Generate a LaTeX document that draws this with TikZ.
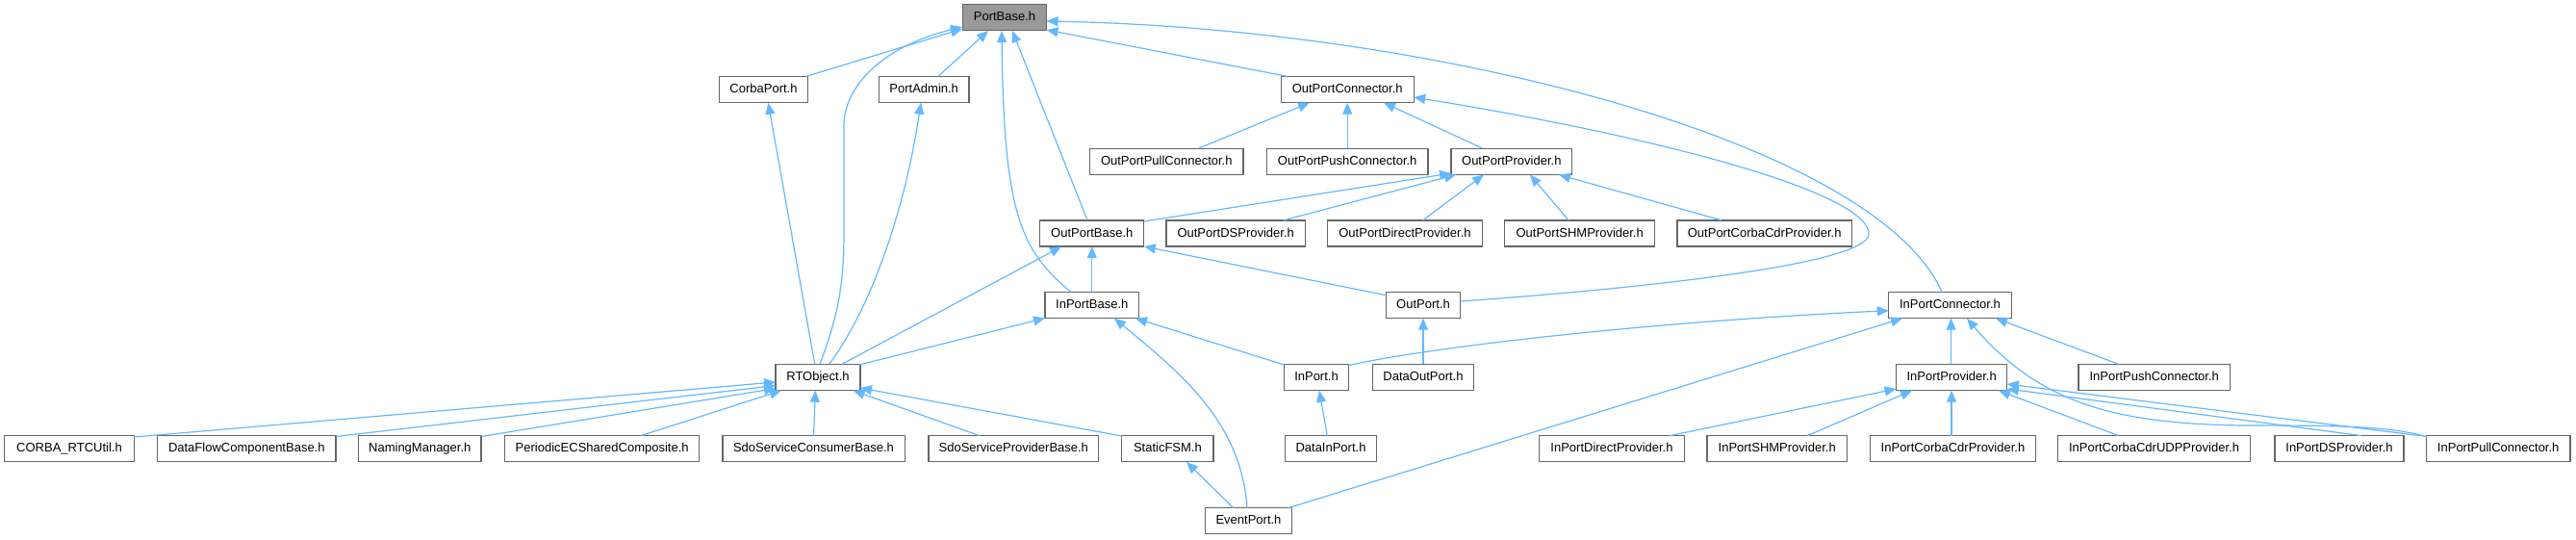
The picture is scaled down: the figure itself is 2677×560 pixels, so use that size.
\documentclass[tikz,border=0pt]{standalone}
\usepackage{fontspec}
\setmainfont{Liberation Sans}
\usetikzlibrary{arrows.meta}
\definecolor{edgec}{HTML}{63B8FF}
\definecolor{bordc}{HTML}{666666}
\definecolor{pbfill}{HTML}{999999}
\tikzset{
  box/.style={draw=bordc, line width=1.3pt, fill=white, minimum height=27pt, inner sep=0pt,
    font=\fontsize{13pt}{15pt}\selectfont, text height=9.5pt, text depth=2.5pt},
  edge/.style={draw=edgec, line width=1.2pt, -{Triangle[length=12pt,width=10pt]}}
}
\begin{document}
\begin{tikzpicture}[x=1pt,y=-1pt]
\useasboundingbox (0,0) rectangle (2677,560);
% row 0
\node[box, fill=pbfill, minimum width=87pt] (PB) at (1044,18.3) {PortBase.h};
% row 1
\node[box, minimum width=91.5pt] (CP) at (793.5,93) {CorbaPort.h};
\node[box, minimum width=93.7pt] (PA) at (960.2,93) {PortAdmin.h};
\node[box, minimum width=138pt] (OPC) at (1400.2,93) {OutPortConnector.h};
% row 2
\node[box, minimum width=159.4pt] (OPPull) at (1212.3,167.8) {OutPortPullConnector.h};
\node[box, minimum width=167.4pt] (OPPush) at (1400.2,167.8) {OutPortPushConnector.h};
\node[box, minimum width=125.5pt] (OPP) at (1570.8,167.8) {OutPortProvider.h};
% row 3
\node[box, minimum width=108pt] (OPB) at (1134.8,242.5) {OutPortBase.h};
\node[box, minimum width=144.3pt] (OPDS) at (1284.2,242.5) {OutPortDSProvider.h};
\node[box, minimum width=161pt] (OPDir) at (1460,242.5) {OutPortDirectProvider.h};
\node[box, minimum width=155.8pt] (OPSHM) at (1641.7,242.5) {OutPortSHMProvider.h};
\node[box, minimum width=181.7pt] (OPCC) at (1833.7,242.5) {OutPortCorbaCdrProvider.h};
% row 4
\node[box, minimum width=97.6pt] (IPB) at (1134.8,317) {InPortBase.h};
\node[box, minimum width=77.5pt] (OP) at (1479,317) {OutPort.h};
\node[box, minimum width=127.5pt] (IPC) at (2026.5,317) {InPortConnector.h};
% row 5
\node[box, minimum width=88pt] (RTO) at (850,392) {RTObject.h};
\node[box, minimum width=67pt] (IP) at (1368,392) {InPort.h};
\node[box, minimum width=105pt] (DOP) at (1479,392) {DataOutPort.h};
\node[box, minimum width=115.2pt] (IPP) at (2028.2,392) {InPortProvider.h};
\node[box, minimum width=157.3pt] (IPPush) at (2238.7,392) {InPortPushConnector.h};
% row 6
\node[box, minimum width=134.7pt] (CORBA) at (72,466.3) {CORBA\_RTCUtil.h};
\node[box, minimum width=185.4pt] (DFCB) at (256.3,466.3) {DataFlowComponentBase.h};
\node[box, minimum width=127.4pt] (NM) at (436.3,466.3) {NamingManager.h};
\node[box, minimum width=202pt] (PECSC) at (625.7,466.3) {PeriodicECSharedComposite.h};
\node[box, minimum width=189.3pt] (SdoC) at (845.5,466.3) {SdoServiceConsumerBase.h};
\node[box, minimum width=176.8pt] (SdoP) at (1053.3,466.3) {SdoServiceProviderBase.h};
\node[box, minimum width=95.3pt] (SFSM) at (1213.4,466.3) {StaticFSM.h};
\node[box, minimum width=94.7pt] (DIP) at (1383,466.3) {DataInPort.h};
\node[box, minimum width=150.4pt] (IPDir) at (1675,466.3) {InPortDirectProvider.h};
\node[box, minimum width=145.3pt] (IPSHM) at (1846.7,466.3) {InPortSHMProvider.h};
\node[box, minimum width=171.7pt] (IPCC) at (2029.5,466.3) {InPortCorbaCdrProvider.h};
\node[box, minimum width=200.2pt] (IPUDP) at (2238.5,466.3) {InPortCorbaCdrUDPProvider.h};
\node[box, minimum width=134.2pt] (IPDS) at (2431,466.3) {InPortDSProvider.h};
\node[box, minimum width=149.3pt] (IPPull) at (2596.2,466.3) {InPortPullConnector.h};
% row 7
\node[box, minimum width=90pt] (EP) at (1297.5,541.3) {EventPort.h};

% edges into PortBase
\draw[edge] ([shift={(44.5,-13.7)}]CP.center) -- ([shift={(-44,11.7)}]PB.center);
\draw[edge] ([shift={(14.8,-13.7)}]PA.center) -- ([shift={(-17,13.7)}]PB.center);
\draw[edge] ([shift={(2,-13.7)}]RTO.center) .. controls (870,330) and (877,300) .. (877,240) -- (877,130) .. controls (877,95) and (910,50) .. ([shift={(-44,9.7)}]PB.center);
\draw[edge] ([shift={(-21.8,-13.7)}]IPB.center) .. controls (1060,260) and (1043,220) .. ([shift={(-3,13.7)}]PB.center);
\draw[edge] ([shift={(-4.8,-13.7)}]OPB.center) -- ([shift={(8,13.7)}]PB.center);
\draw[edge] ([shift={(-62.7,-13.7)}]OPC.center) -- ([shift={(43.5,12.7)}]PB.center);
\draw[edge] ([shift={(-8.5,-13.7)}]IPC.center) .. controls (1950,150) and (1500,30) .. ([shift={(43.5,3.7)}]PB.center);
% edges into OutPortConnector
\draw[edge] ([shift={(33.2,-13.7)}]OPPull.center) -- ([shift={(-39.2,13.7)}]OPC.center);
\draw[edge] ([shift={(0,-13.7)}]OPPush.center) -- ([shift={(0,13.7)}]OPC.center);
\draw[edge] ([shift={(-30.2,-13.7)}]OPP.center) -- ([shift={(37.8,13.7)}]OPC.center);
\draw[edge] ([shift={(38.75,-4)}]OP.center) .. controls (1700,300) and (1942,275) .. (1942,243) .. controls (1942,200) and (1723,142) .. ([shift={(69,8)}]OPC.center);
% edges into OutPortProvider
\draw[edge] ([shift={(54,-12.5)}]OPB.center) -- ([shift={(-62.75,12.2)}]OPP.center);
\draw[edge] ([shift={(49.8,-13.7)}]OPDS.center) -- ([shift={(-57.8,13.7)}]OPP.center);
\draw[edge] ([shift={(18.7,-13.7)}]OPDir.center) -- ([shift={(-28.8,13.7)}]OPP.center);
\draw[edge] ([shift={(-11.7,-13.7)}]OPSHM.center) -- ([shift={(19.2,13.7)}]OPP.center);
\draw[edge] ([shift={(-44.7,-13.7)}]OPCC.center) -- ([shift={(49.2,13.7)}]OPP.center);
% edges into OutPortBase
\draw[edge] ([shift={(25,-13.7)}]RTO.center) -- ([shift={(-31.8,13.7)}]OPB.center);
\draw[edge] ([shift={(0,-13.7)}]IPB.center) -- ([shift={(0,13.7)}]OPB.center);
\draw[edge] ([shift={(-38.75,-10.3)}]OP.center) -- ([shift={(54,13.5)}]OPB.center);
% edges into InPortBase
\draw[edge] ([shift={(43,-13)}]RTO.center) -- ([shift={(-48.8,13.5)}]IPB.center);
\draw[edge] ([shift={(-33.5,-13)}]IP.center) -- ([shift={(45.2,13.7)}]IPB.center);
\draw[edge] ([shift={(-1.5,-13.7)}]EP.center) .. controls (1290,440) and (1230,390) .. ([shift={(23.2,13.7)}]IPB.center);
% edges into CorbaPort / PortAdmin
\draw[edge] ([shift={(-3.3,-13.7)}]RTO.center) -- ([shift={(4.8,13.7)}]CP.center);
\draw[edge] ([shift={(11.7,-13.7)}]RTO.center) .. controls (905,320) and (940,220) .. ([shift={(-3.2,13.7)}]PA.center);
% edges into RTObject
\draw[edge] ([shift={(67.35,-12.3)}]CORBA.center) -- ([shift={(-44,5)}]RTO.center);
\draw[edge] ([shift={(92.7,-12.8)}]DFCB.center) -- ([shift={(-44,8.5)}]RTO.center);
\draw[edge] ([shift={(63.7,-12.8)}]NM.center) -- ([shift={(-44,11.5)}]RTO.center);
\draw[edge] ([shift={(40.3,-13.7)}]PECSC.center) -- ([shift={(-38,13.7)}]RTO.center);
\draw[edge] ([shift={(0.1,-13.7)}]SdoC.center) -- ([shift={(-2.7,13.7)}]RTO.center);
\draw[edge] ([shift={(-35.6,-13.7)}]SdoP.center) -- ([shift={(36.7,13.7)}]RTO.center);
\draw[edge] ([shift={(-47.6,-13.3)}]SFSM.center) -- ([shift={(44,11)}]RTO.center);
% misc
\draw[edge] ([shift={(-15.8,-13.7)}]EP.center) -- ([shift={(19.6,13.7)}]SFSM.center);
\draw[edge] ([shift={(0,-13.7)}]DOP.center) -- ([shift={(0,13.7)}]OP.center);
\draw[edge] ([shift={(-3.7,-13.7)}]DIP.center) -- ([shift={(3,13.7)}]IP.center);
% edges into InPortConnector
\draw[edge] ([shift={(33.5,-12.5)}]IP.center) .. controls (1480,362) and (1700,335) .. ([shift={(-63.75,5.7)}]IPC.center);
\draw[edge] ([shift={(41.5,-13.7)}]EP.center) -- ([shift={(-49.5,13.7)}]IPC.center);
\draw[edge] ([shift={(-0.6,-13.7)}]IPP.center) -- ([shift={(1.1,13.7)}]IPC.center);
\draw[edge] ([shift={(-37.1,-13.7)}]IPPush.center) -- ([shift={(47.5,13.7)}]IPC.center);
\draw[edge] ([shift={(-74.6,-12.8)}]IPPull.center) .. controls (2480,442) and (2420,442) .. (2330,442) .. controls (2200,440) and (2120,420) .. ([shift={(17.5,13.7)}]IPC.center);
% edges into InPortProvider
\draw[edge] ([shift={(60.3,-13.7)}]IPDir.center) -- ([shift={(-57.6,12)}]IPP.center);
\draw[edge] ([shift={(31.6,-13.7)}]IPSHM.center) -- ([shift={(-41.2,13.7)}]IPP.center);
\draw[edge] ([shift={(-1.5,-13.7)}]IPCC.center) -- ([shift={(-0.2,13.7)}]IPP.center);
\draw[edge] ([shift={(-36.9,-13.7)}]IPUDP.center) -- ([shift={(48.8,13.7)}]IPP.center);
\draw[edge] ([shift={(23,-13.7)}]IPDS.center) -- ([shift={(57.6,12)}]IPP.center);
\draw[edge] ([shift={(-74.2,-12.8)}]IPPull.center) -- ([shift={(57.6,7)}]IPP.center);
\end{tikzpicture}
\end{document}
